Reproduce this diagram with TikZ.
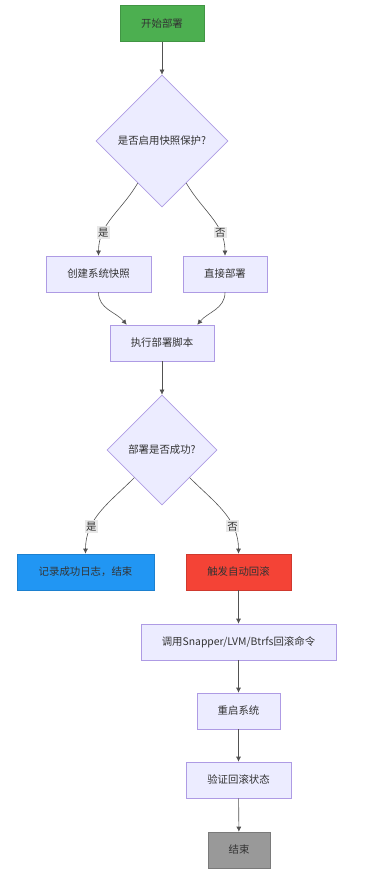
\documentclass[tikz,border=0pt]{standalone}
\usepackage{fontspec}
\setmainfont{Noto Sans CJK SC}
\usetikzlibrary{arrows.meta,shapes.geometric}
\definecolor{ink}{HTML}{333333}
\definecolor{lilac}{HTML}{ECECFF}
\definecolor{mauve}{HTML}{AE9BE4}
\definecolor{leaf}{HTML}{4CAF50}
\definecolor{sky}{HTML}{2196F3}
\definecolor{alarm}{HTML}{F44336}
\definecolor{stone}{HTML}{999999}
\tikzset{
  process/.style={
    draw=mauve,
    fill=lilac,
    text=ink,
    line width=0.6pt,
    minimum height=36pt,
    inner sep=0pt,
    font=\fontsize{10.4}{12}\selectfont
  },
  decision/.style={
    diamond,
    draw=mauve,
    fill=lilac,
    text=ink,
    line width=0.6pt,
    inner sep=0pt,
    font=\fontsize{10.4}{12}\selectfont
  },
  tag/.style={
    fill=black!9,
    text=ink,
    inner sep=1.5pt,
    font=\fontsize{10.4}{12}\selectfont
  },
  arrow/.style={
    -{Latex[length=5pt,width=5pt]},
    draw=ink!85,
    line width=0.6pt
  }
}

\begin{document}
\begin{tikzpicture}[x=1pt,y=-1pt]
  \useasboundingbox (0,0) rectangle (365,874);

  % Start and snapshot question
  \node[process, fill=leaf, draw=leaf!85!black, minimum width=84pt] (start) at (162,23.5) {开始部署};
  \node[decision, minimum width=132pt, minimum height=132pt] (snapq) at (162,141) {是否启用快照保护?};
  \node[process, minimum width=105pt] (snap) at (98.5,274) {创建系统快照};
  \node[process, minimum width=84pt] (direct) at (225,274) {直接部署};

  % Deployment and outcome question
  \node[process, minimum width=104pt] (run) at (162,343) {执行部署脚本};
  \node[decision, minimum width=110pt, minimum height=110pt] (okq) at (162,450) {部署是否成功?};
  \node[process, fill=sky, draw=sky!85!black, minimum width=137pt] (done) at (85.5,572) {记录成功日志，结束};
  \node[process, fill=alarm, draw=alarm!85!black, minimum width=105pt] (rollback) at (238.5,572) {触发自动回滚};

  % Rollback chain
  \node[process, minimum width=195pt] (call) at (238.5,642) {调用Snapper/LVM/Btrfs回滚命令};
  \node[process, minimum width=83pt] (reboot) at (238.5,711) {重启系统};
  \node[process, minimum width=105pt] (verify) at (238.5,780) {验证回滚状态};
  \node[process, fill=stone, draw=stone!80!black, minimum width=62pt] (finish) at (239,850) {结束};

  % Connectors
  \draw[arrow] (start) -- (snapq);
  \draw[arrow] (snapq) to[out=-120,in=90] node[tag, pos=0.72] {是} (snap);
  \draw[arrow] (snapq) to[out=-60,in=90] node[tag, pos=0.72] {否} (direct);
  \draw[arrow] (snap) to[out=-90,in=130] ([xshift=17pt]run.north west);
  \draw[arrow] (direct) to[out=-90,in=50] ([xshift=-17pt]run.north east);
  \draw[arrow] (run) -- (okq);
  \draw[arrow] (okq) to[out=-135,in=90] node[tag, pos=0.7] {是} (done);
  \draw[arrow] (okq) to[out=-45,in=90] node[tag, pos=0.7] {否} (rollback);
  \draw[arrow] (rollback) -- (call);
  \draw[arrow] (call) -- (reboot);
  \draw[arrow] (reboot) -- (verify);
  \draw[arrow] (verify) -- (finish);
\end{tikzpicture}
\end{document}
